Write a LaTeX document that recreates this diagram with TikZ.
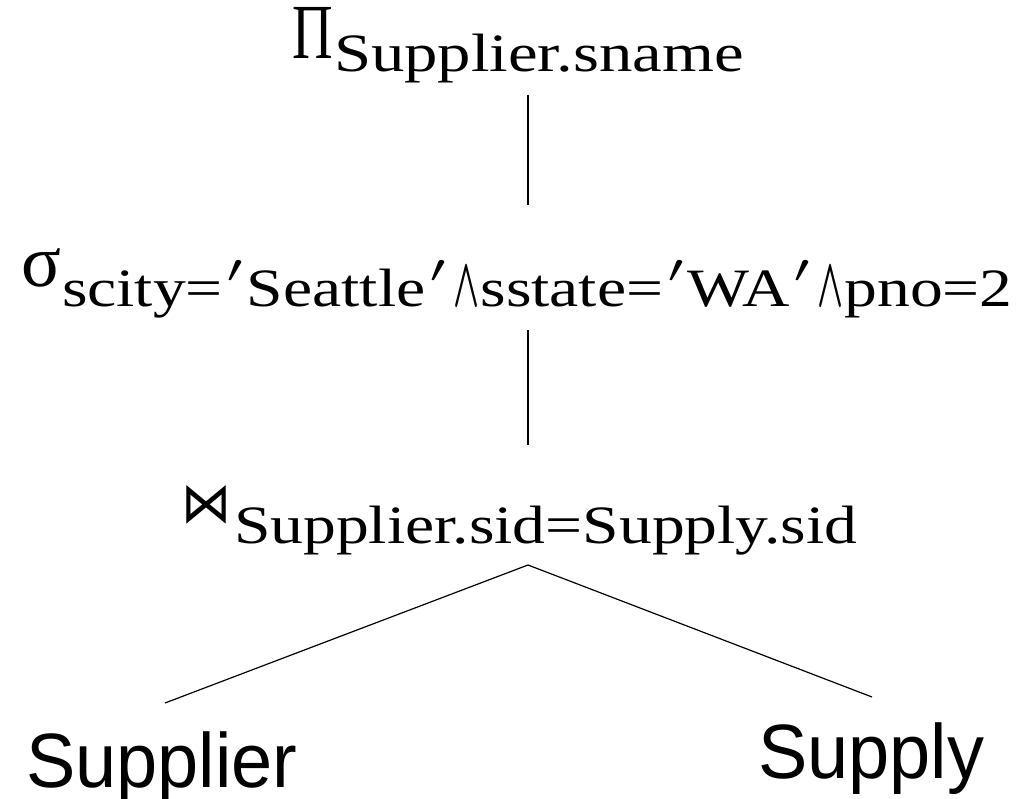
\documentclass[tikz,border=0pt]{standalone}
\usepackage{fontspec}
\setmainfont{Liberation Serif}
\newfontfamily\subf[FakeStretch=1.215]{Liberation Serif}
\newfontfamily\subfb[FakeStretch=1.236]{Liberation Serif}
\newfontfamily\symf{DejaVu Sans}
\newfontfamily\labf{Liberation Sans}
\newcommand\mypr{\kern5pt\raisebox{24pt}{\resizebox{15pt}{22pt}{$\prime$}}\kern4pt}
\newcommand\myand{\kern4pt{\fontsize{10}{10}\selectfont\scalebox{3.4}[7]{\boldmath$\wedge$}}\kern1pt}
\begin{document}
\begin{tikzpicture}[x=1pt,y=-1pt,
  lab/.style={inner sep=0pt, outer sep=0pt, anchor=base west},
  big/.style={lab, font=\fontsize{74}{74}\selectfont},
  sub/.style={lab, font=\subf\fontsize{54}{54}\selectfont},
  leaf/.style={lab, font=\labf\fontsize{77}{77}\selectfont},
  edge/.style={draw=black, line width=1.2pt}]
\useasboundingbox (0,0) rectangle (1033,799);
% projection
\node[big, font=\fontsize{78}{78}\selectfont] (pi) at (292,59) {\scalebox{0.72}[1]{Π}};
\node[sub, font=\subfb\fontsize{54}{54}\selectfont] (pisub) at (334,72) {Supplier.sname};
% selection
\node[big] (sigma) at (21,287) {σ};
\node[sub] (sigsub) at (62,307) {scity=\mypr Seattle\mypr\myand sstate=\mypr WA\mypr\myand pno=2};
% join
\node[inner sep=0pt, outer sep=0pt, anchor=south west] (join) at (181,524) {\resizebox{50pt}{37pt}{\symf ⋈}};
\node[sub] (joinsub) at (234,543) {Supplier.sid=Supply.sid};
% leaves
\node[leaf] (supplier) at (26,787) {\scalebox{0.96}[1]{Supplier}};
\node[leaf] (supply) at (758,778) {\scalebox{0.96}[1]{Supply}};
% connector ends
\coordinate (p1) at (528,95);
\coordinate (s1) at (528,205);
\coordinate (s2) at (528,330);
\coordinate (j1) at (528,445);
\coordinate (j2) at (528,565);
\coordinate (l1) at (165,703);
\coordinate (r1) at (872,697);
\draw[edge] (p1) -- (s1);
\draw[edge] (s2) -- (j1);
\draw[edge] (j2) -- (l1);
\draw[edge] (j2) -- (r1);
\end{tikzpicture}
\end{document}
